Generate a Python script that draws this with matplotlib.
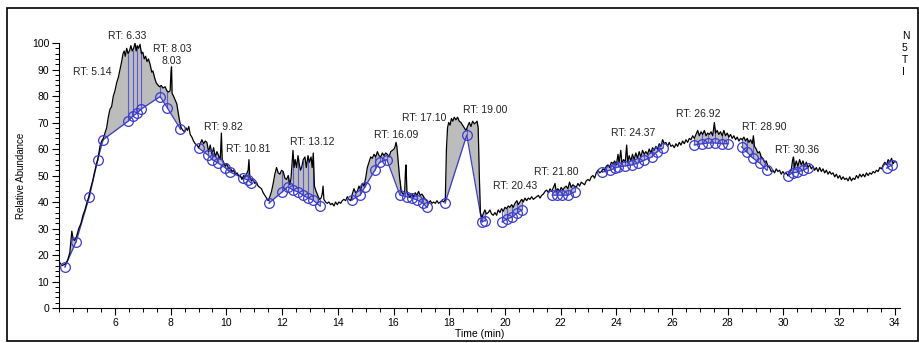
import numpy as np
import matplotlib
matplotlib.use('Agg')
import matplotlib.pyplot as plt
from matplotlib.ticker import MultipleLocator
from matplotlib.patches import Rectangle

plt.rcParams['font.family'] = ['Liberation Sans', 'DejaVu Sans']

# Traza del cromatograma (tiempo en min, abundancia relativa en %)
trace_time = [
    4.03, 4.1, 4.2, 4.3, 4.38, 4.45, 4.5, 4.55, 4.62, 4.7, 4.78, 4.85, 4.92, 5.0, 5.06, 5.12, 5.2, 5.26, 5.33, 5.4,
    5.46, 5.52, 5.58, 5.64, 5.7, 5.76, 5.82, 5.88, 5.94, 6.0, 6.06, 6.12, 6.18, 6.24, 6.29, 6.33, 6.37, 6.42, 6.47, 6.52,
    6.57, 6.62, 6.67, 6.72, 6.76, 6.8, 6.85, 6.9, 6.95, 7.0, 7.05, 7.1, 7.15, 7.2, 7.26, 7.32, 7.36, 7.42, 7.48, 7.55,
    7.6, 7.66, 7.72, 7.8, 7.86, 7.92, 7.98, 8.01, 8.03, 8.05, 8.1, 8.16, 8.22, 8.28, 8.33, 8.38, 8.44, 8.5, 8.55, 8.6,
    8.65, 8.7, 8.76, 8.82, 8.88, 8.94, 9.0, 9.06, 9.12, 9.18, 9.24, 9.3, 9.36, 9.42, 9.48, 9.54, 9.6, 9.66, 9.72, 9.78,
    9.82, 9.85, 9.9, 9.96, 10.02, 10.08, 10.14, 10.2, 10.26, 10.32, 10.38, 10.44, 10.5, 10.56, 10.62, 10.68, 10.74, 10.78, 10.81, 10.84,
    10.9, 10.96, 11.02, 11.08, 11.14, 11.2, 11.26, 11.32, 11.38, 11.44, 11.5, 11.56, 11.62, 11.68, 11.74, 11.8, 11.86, 11.92, 11.98, 12.04,
    12.1, 12.16, 12.22, 12.28, 12.32, 12.36, 12.39, 12.43, 12.47, 12.52, 12.57, 12.62, 12.66, 12.7, 12.76, 12.82, 12.87, 12.93, 12.98, 13.04,
    13.08, 13.12, 13.16, 13.22, 13.28, 13.34, 13.4, 13.44, 13.47, 13.5, 13.56, 13.62, 13.68, 13.74, 13.8, 13.86, 13.92, 13.98, 14.04, 14.1,
    14.16, 14.22, 14.28, 14.34, 14.4, 14.46, 14.52, 14.58, 14.64, 14.7, 14.76, 14.82, 14.88, 14.94, 15.0, 15.06, 15.12, 15.18, 15.24, 15.3,
    15.36, 15.42, 15.48, 15.54, 15.6, 15.66, 15.72, 15.78, 15.84, 15.9, 15.96, 16.02, 16.06, 16.09, 16.12, 16.17, 16.22, 16.28, 16.34, 16.4,
    16.43, 16.45, 16.48, 16.54, 16.6, 16.66, 16.72, 16.78, 16.84, 16.9, 16.96, 17.02, 17.08, 17.14, 17.2, 17.26, 17.32, 17.38, 17.44, 17.5,
    17.56, 17.62, 17.68, 17.74, 17.8, 17.86, 17.9, 17.94, 17.98, 18.03, 18.08, 18.13, 18.18, 18.24, 18.3, 18.36, 18.42, 18.48, 18.54, 18.6,
    18.66, 18.72, 18.78, 18.84, 18.9, 18.96, 19.0, 19.04, 19.08, 19.12, 19.17, 19.22, 19.28, 19.34, 19.4, 19.46, 19.52, 19.58, 19.64, 19.7,
    19.76, 19.82, 19.88, 19.94, 20.0, 20.06, 20.12, 20.18, 20.24, 20.3, 20.36, 20.43, 20.48, 20.54, 20.6, 20.66, 20.72, 20.78, 20.84, 20.9,
    20.96, 21.02, 21.08, 21.14, 21.2, 21.26, 21.32, 21.38, 21.44, 21.5, 21.56, 21.62, 21.68, 21.74, 21.8, 21.84, 21.9, 21.96, 22.02, 22.08,
    22.14, 22.2, 22.26, 22.32, 22.38, 22.44, 22.5, 22.56, 22.62, 22.68, 22.74, 22.8, 22.86, 22.92, 22.98, 23.04, 23.1, 23.16, 23.22, 23.28,
    23.34, 23.4, 23.46, 23.52, 23.58, 23.64, 23.7, 23.76, 23.82, 23.88, 23.94, 24.0, 24.06, 24.1, 24.16, 24.2, 24.26, 24.32, 24.37, 24.41,
    24.46, 24.52, 24.58, 24.64, 24.7, 24.76, 24.82, 24.88, 24.94, 25.0, 25.06, 25.12, 25.18, 25.24, 25.3, 25.36, 25.42, 25.48, 25.54, 25.6,
    25.66, 25.72, 25.78, 25.84, 25.9, 25.96, 26.02, 26.08, 26.14, 26.2, 26.26, 26.32, 26.38, 26.44, 26.5, 26.56, 26.62, 26.68, 26.74, 26.8,
    26.86, 26.92, 26.98, 27.04, 27.1, 27.16, 27.22, 27.28, 27.34, 27.4, 27.46, 27.52, 27.56, 27.62, 27.68, 27.74, 27.8, 27.86, 27.92, 27.98,
    28.04, 28.1, 28.16, 28.22, 28.28, 28.34, 28.4, 28.46, 28.52, 28.58, 28.64, 28.7, 28.76, 28.82, 28.88, 28.92, 28.96, 29.02, 29.08, 29.14,
    29.2, 29.26, 29.32, 29.38, 29.44, 29.5, 29.56, 29.62, 29.68, 29.74, 29.8, 29.86, 29.92, 29.98, 30.04, 30.1, 30.16, 30.22, 30.28, 30.33,
    30.36, 30.4, 30.46, 30.52, 30.58, 30.64, 30.7, 30.76, 30.82, 30.88, 30.94, 31.0, 31.06, 31.12, 31.18, 31.24, 31.3, 31.36, 31.42, 31.48,
    31.54, 31.6, 31.66, 31.72, 31.78, 31.84, 31.9, 31.96, 32.02, 32.08, 32.14, 32.2, 32.26, 32.32, 32.38, 32.44, 32.5, 32.56, 32.62, 32.68,
    32.74, 32.8, 32.86, 32.92, 32.98, 33.04, 33.1, 33.16, 33.22, 33.28, 33.34, 33.4, 33.46, 33.52, 33.58, 33.64, 33.7, 33.76, 33.82, 33.88,
    33.94, 34.0, 34.06,
]
trace_abund = [
    17, 16, 16.5, 18, 21, 29, 26, 25.5, 27, 30, 32, 35, 37, 40, 42, 45, 48, 51, 54, 57,
    61, 63, 64, 66, 68, 72, 75, 76, 80, 82, 85, 87, 90, 93, 96, 97, 95, 98, 96, 97,
    99, 97, 98, 100, 97, 99, 98, 99.5, 96, 96.5, 94, 95, 93, 94, 92, 89, 89.5, 87, 85, 84,
    83.5, 84, 83, 83.5, 82, 81.5, 82, 89, 91, 81, 80, 78.5, 77, 73, 70, 68, 67, 66.5, 68, 67,
    68.5, 65.5, 64.5, 63, 62, 61.5, 60.5, 62, 63.5, 62, 63, 62.5, 59, 61.5, 58, 60.5, 57, 59, 57.5, 56,
    66, 56, 55, 53.5, 54.5, 52.5, 53, 51.5, 52, 50.5, 51, 50, 50, 48.5, 50, 49.5, 51, 52, 56, 49.5,
    48, 48.5, 47, 47.5, 46, 45.5, 45, 43.5, 42.5, 41.5, 40.5, 42, 44, 47, 50.5, 53, 51, 50.5, 52, 51.5,
    49, 48.5, 50, 46.5, 49, 55, 59.5, 53, 56, 53, 57.5, 54, 52, 53, 56, 57, 53, 57.5, 55, 57,
    53, 58.5, 46, 44, 42.5, 41, 41.5, 43, 46, 41, 40, 39.5, 40, 39, 39.5, 38.5, 40, 39, 40, 39.5,
    40.5, 41, 40.5, 42, 41, 40.5, 43, 45, 43.5, 44, 46, 44.5, 47, 46, 49, 53, 55, 57, 56.5, 58,
    57, 59, 57.5, 57, 58.5, 57.5, 58.5, 58, 57, 59, 59.5, 60, 61, 62.5, 61, 55, 49, 44, 43, 43.5,
    52, 54, 44, 42.5, 42, 43, 42, 43.5, 42.5, 44, 42.5, 43, 42, 41, 40.5, 39.5, 40.5, 39.5, 40, 39.5,
    40.5, 39.5, 40, 40.5, 40, 41, 60, 68, 70, 69, 71.5, 70.5, 72, 71, 72, 70.5, 70, 69, 68, 67,
    68.5, 70, 68.5, 70.5, 69.5, 70, 70.5, 68, 50, 36, 34, 35.5, 37, 35.5, 36, 37, 35.5, 35, 36, 35,
    37, 36, 37.5, 36.5, 38, 37.5, 38.5, 38, 39, 38, 39.5, 40.5, 39, 40, 41, 40, 41.5, 40.5, 41.5, 41,
    42, 41, 41.5, 42, 42.5, 41.5, 42.5, 43, 44, 44.5, 43.5, 45, 44, 45.5, 47, 44, 45, 44, 45.5, 44.5,
    45.5, 46, 45, 47.5, 45.5, 46.5, 46, 45.5, 47, 46, 47.5, 47, 46.5, 48, 48.5, 48, 49.5, 50, 49, 51,
    52, 51, 51.5, 52.5, 52, 53.5, 54, 53, 55, 54.5, 55.5, 54, 58, 55, 59.5, 54.5, 56, 55, 61.5, 55,
    57.5, 55.5, 58, 56, 58.5, 56.5, 59, 57, 59.5, 58, 59, 58, 60, 58.5, 60.5, 59.5, 61, 60, 62, 61,
    63.5, 62, 62.5, 61, 62.5, 61, 61.5, 60.5, 62, 61, 62.5, 61.5, 63, 62, 63.5, 62.5, 64, 63.5, 65, 64,
    65.5, 67, 65, 66.5, 65.5, 67, 65, 66, 65.5, 66.5, 65, 70, 66, 67, 65.5, 66.5, 65, 67, 65, 66,
    64.5, 65.5, 64, 65, 63.5, 64.5, 63, 64, 63.5, 64.5, 63, 64, 62.5, 63.5, 62, 65, 61, 60, 58.5, 59,
    57, 56.5, 55, 55.5, 53.5, 53, 51.5, 52, 51, 52.5, 51.5, 52, 50.5, 51.5, 50.5, 51, 50, 51.5, 52, 56,
    57, 53, 55.5, 53.5, 56, 54, 55.5, 53.5, 55, 53, 54, 52.5, 53.5, 52, 53, 51.5, 53, 51.5, 52.5, 51,
    52, 50.5, 51.5, 50.5, 51, 49.5, 50.5, 49, 50, 48.5, 49.5, 48.5, 49, 48, 49.5, 48, 49, 48.5, 50, 49,
    50.5, 49.5, 50.5, 49.5, 51, 50, 51, 50.5, 51.5, 51, 52, 51.5, 53, 52.5, 54, 55, 54, 56, 55, 56.5,
    54.5, 55.5, 55,
]

# Puntos de línea base (círculos), agrupados por tramos conectados
base_time = [
    [4.2, 4.6, 5.08, 5.38, 5.57, 6.47, 6.64, 6.79, 6.93, 7.62, 7.88, 8.35],
    [9.0, 9.34, 9.5, 9.7, 9.95, 10.13, 10.6, 10.77, 10.9],
    [11.53, 12.0, 12.2, 12.4, 12.57, 12.75, 12.93, 13.1, 13.36],
    [14.5, 14.8, 14.97, 15.33, 15.5, 15.76, 16.23, 16.48, 16.66, 16.84, 17.05, 17.2],
    [17.85, 18.63, 19.17, 19.28],
    [19.9, 20.07, 20.25, 20.43, 20.6],
    [21.7, 21.87, 22.05, 22.26, 22.5],
    [23.5, 23.77, 23.95, 24.05, 24.3, 24.56, 24.77, 25.0, 25.27, 25.45, 25.67],
    [26.8, 27.07, 27.3, 27.54, 27.79, 28.0],
    [28.5, 28.68, 28.9, 29.15, 29.4],
    [30.15, 30.33, 30.5, 30.7, 30.87],
    [33.7, 33.9],
]
base_abund = [
    [15.5, 25, 42, 56, 63.5, 70.5, 72.5, 73.5, 75, 79.8, 75.5, 67.5],
    [60.4, 57.7, 56, 54.7, 53, 51.3, 49, 48.3, 47],
    [39.6, 43.8, 45.7, 44.5, 43.8, 42.6, 41.5, 40.8, 38.5],
    [40.8, 42.6, 45.7, 52, 55, 56, 42.6, 42, 41.5, 40.8, 39.6, 38],
    [39.6, 65.3, 32.5, 33],
    [32.5, 33.6, 34.3, 35.8, 37],
    [42.6, 42.6, 42.6, 42.6, 43.8],
    [51.3, 52, 52.8, 53.2, 53.6, 54, 54.7, 55.8, 57, 58.9, 60.4],
    [61.5, 62, 62.3, 62.3, 62, 62],
    [60.8, 58.9, 56.6, 54.7, 52],
    [50, 51, 51.3, 52, 52.8],
    [52.8, 54],
]

# Etiquetas de picos
peak_labels = ['RT: 5.14', 'RT: 6.33', 'RT: 8.03\n8.03', 'RT: 9.82', 'RT: 10.81', 'RT: 13.12', 'RT: 16.09',
               'RT: 17.10', 'RT: 19.00', 'RT: 20.43', 'RT: 21.80', 'RT: 24.37', 'RT: 26.92', 'RT: 28.90', 'RT: 30.36']
label_time = [5.2, 6.43, 8.05, 9.9, 10.8, 13.1, 16.1, 17.1, 19.28, 20.36, 21.83, 24.6, 26.93, 29.3, 30.48]
label_abund = [89, 102.6, 95.5, 68.3, 60, 62.6, 65.3, 71.7, 74.7, 46, 51.3, 66, 73.2, 68.3, 59.6]

t = np.array(trace_time)
a = np.array(trace_abund)

fig = plt.figure(figsize=(9.19, 3.43), dpi=100)
ax = fig.add_axes([0.0642, 0.102, 0.915, 0.7726])

blue = '#3b3bcf'
for bt, ba in zip(base_time, base_abund):
    bt = np.array(bt)
    ba = np.array(ba)
    m = (t >= bt[0]) & (t <= bt[-1])
    tt = t[m]
    base = np.interp(tt, bt, ba)
    ax.fill_between(tt, base, a[m], where=a[m] >= base, color='#bcbcbc', lw=0, interpolate=True)
    # líneas verticales de separación de picos
    top = np.interp(bt, t, a)
    ax.vlines(bt, ba, top, color='#5a5ad0', lw=0.8)
    ax.plot(bt, ba, color=blue, lw=0.9, zorder=3)

ax.plot(t, a, color='black', lw=0.9, zorder=4)

for bt, ba in zip(base_time, base_abund):
    ax.plot(bt, ba, 'o', ms=7, mfc='none', mec=blue, mew=0.9, zorder=5)

for s, x, y in zip(peak_labels, label_time, label_abund):
    ax.text(x, y, s, ha='center', va='center', fontsize=7.5, color='#222222',
            linespacing=1.3, clip_on=False)

ax.set_xlim(3.99, 34.18)
ax.set_ylim(0, 100)
ax.set_xticks(range(6, 35, 2))
ax.set_yticks(range(0, 101, 10))
ax.xaxis.set_minor_locator(MultipleLocator(0.5))
ax.yaxis.set_minor_locator(MultipleLocator(2))
ax.tick_params(which='major', direction='out', length=5, width=0.8, labelsize=7.5, pad=2)
ax.tick_params(which='minor', direction='out', length=3, width=0.7)
ax.spines['top'].set_visible(False)
ax.spines['right'].set_visible(False)
ax.spines['left'].set_linewidth(0.8)
ax.spines['bottom'].set_linewidth(0.8)
ax.set_xlabel('Time (min)', fontsize=7.5, labelpad=1)
ax.set_ylabel('Relative Abundance', fontsize=7, labelpad=4)

# texto cortado a la derecha
for i, ch in enumerate(['N', '5', 'T', 'I']):
    fig.text(902 / 919, 1 - (36 + 12 * i) / 343, ch, fontsize=7.5, va='center', ha='left')

# marco exterior
fig.patches.append(Rectangle((7 / 919, 2 / 343), 911 / 919, 333 / 343, transform=fig.transFigure,
                             fill=False, edgecolor='black', lw=1.2))

fig.savefig('out.png', dpi=100)
